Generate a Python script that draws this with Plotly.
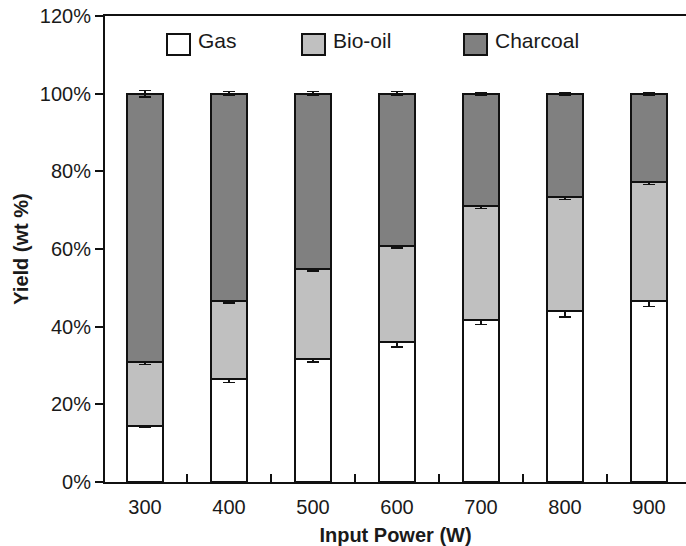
import plotly.graph_objects as go

# ---- data ----
power = ["300", "400", "500", "600", "700", "800", "900"]
gas = [14.5, 26.6, 31.8, 36.0, 41.7, 44.0, 46.5]
bio_oil = [16.3, 19.9, 23.0, 24.9, 29.3, 29.4, 30.7]
charcoal = [69.2, 53.5, 45.2, 39.1, 29.0, 26.6, 22.8]
gas_err = [0.5, 1.0, 0.9, 1.2, 1.1, 1.5, 1.3]
bio_err = [0.5, 0.4, 0.4, 0.6, 0.6, 0.6, 0.6]
char_err = [0.8, 0.5, 0.5, 0.5, 0.3, 0.3, 0.3]
series_names = ["Gas", "Bio-oil", "Charcoal"]
series_colors = ["#ffffff", "#c0c0c0", "#808080"]
y_ticks = [0, 20, 40, 60, 80, 100, 120]
y_tick_labels = ["0%", "20%", "40%", "60%", "80%", "100%", "120%"]

W, H = 686, 546
ML, MR, MT, MB = 105, 0, 16, 64
FONT = "Liberation Sans, Arial, sans-serif"
TXT = "#1a1a1a"

fig = go.Figure()
for name, vals, errs, col in zip(series_names, [gas, bio_oil, charcoal],
                                  [gas_err, bio_err, char_err], series_colors):
    fig.add_trace(go.Bar(
        x=power, y=vals, name=name, width=0.43,
        marker=dict(color=col, line=dict(color="#111111", width=2)),
        error_y=dict(type="data", array=errs, visible=True,
                     color="#111111", thickness=1.5, width=6),
        showlegend=False,
    ))

# manual legend (pixel -> paper helpers)
pw = W - ML - MR
ph = H - MT - MB
def px(x):
    return (x - ML) / pw
def py(y):
    return (H - MB - y) / ph

legend_pos = [(167, 196), (302, 331), (464, 493)]
shapes = []
annotations = []
for (bx, tx), name, col in zip(legend_pos, series_names, series_colors):
    shapes.append(dict(type="rect", xref="paper", yref="paper",
                       x0=px(bx), x1=px(bx + 23), y0=py(55), y1=py(34),
                       fillcolor=col, line=dict(color="#111111", width=2)))
    annotations.append(dict(xref="paper", yref="paper", x=px(tx), y=py(41),
                            text=name, showarrow=False, xanchor="left",
                            yanchor="middle",
                            font=dict(family=FONT, size=21, color=TXT)))

fig.update_layout(
    width=W, height=H,
    margin=dict(l=ML, r=MR, t=MT, b=MB, pad=0),
    barmode="stack",
    plot_bgcolor="white", paper_bgcolor="white",
    font=dict(family=FONT, size=20, color=TXT),
    shapes=shapes, annotations=annotations,
    xaxis=dict(
        type="category", range=[-0.476, 6.44],
        showline=True, linecolor="#111111", linewidth=2, mirror=True,
        ticks="inside", tickson="boundaries", ticklen=8, tickwidth=2,
        tickcolor="#111111", showgrid=False, zeroline=False,
        tickfont=dict(size=20, color=TXT), ticklabelstandoff=6,
        title=dict(text="<b>Input Power (W)</b>", standoff=14,
                   font=dict(size=20, color=TXT)),
    ),
    yaxis=dict(
        range=[0, 120], tickvals=y_ticks, ticktext=y_tick_labels,
        showline=True, linecolor="#111111", linewidth=2,
        ticks="outside", ticklen=8, tickwidth=2, tickcolor="#111111",
        showgrid=False, zeroline=False,
        tickfont=dict(size=20, color=TXT),
        title=dict(text="<b>Yield (wt %)</b>", standoff=6,
                   font=dict(size=20, color=TXT)),
    ),
)

fig.write_html("out.html")
